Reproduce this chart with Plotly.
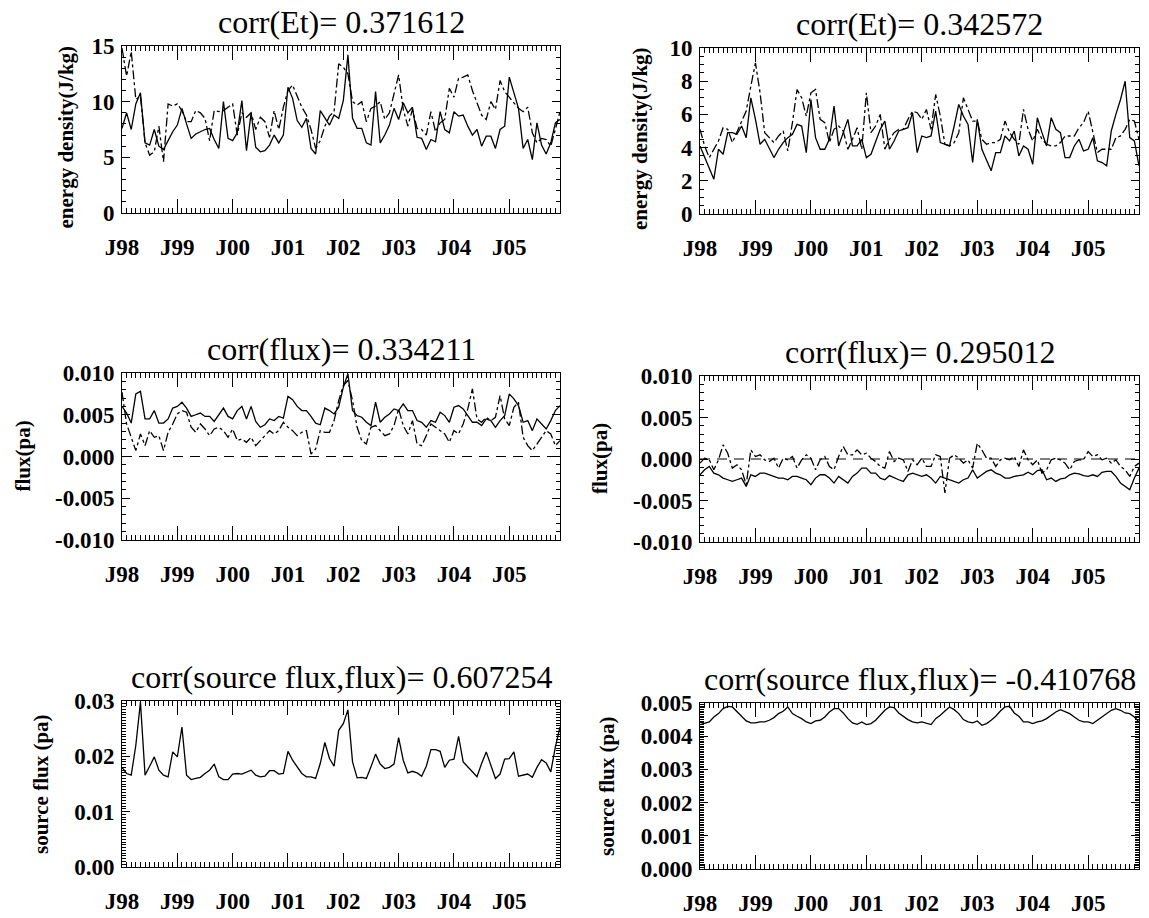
import plotly.graph_objects as go

W, H = 1149, 918
months = list(range(96))
xtick_vals = [0, 12, 24, 36, 48, 60, 72, 84]
xtick_labels = ["J98", "J99", "J00", "J01", "J02", "J03", "J04", "J05"]

titles = ["corr(Et)= 0.371612", "corr(Et)= 0.342572",
          "corr(flux)= 0.334211", "corr(flux)= 0.295012",
          "corr(source flux,flux)= 0.607254", "corr(source flux,flux)= -0.410768"]
ylabels = ["energy density(J/kg)", "energy density(J/kg)", "flux(pa)", "flux(pa)",
           "source flux (pa)", "source flux (pa)"]

# Panel 1: energy density (left)
et_left_solid = [7.6, 9.0, 7.5, 9.8, 10.8, 6.3, 6.1, 7.5, 6.0, 5.7, 6.5, 7.3, 7.9, 9.4, 8.0, 6.7,
                 7.1, 7.3, 7.5, 7.6, 6.6, 5.8, 10.0, 6.7, 6.5, 7.2, 10.1, 5.6, 9.0, 5.9, 5.5, 5.6,
                 6.1, 7.0, 6.3, 7.0, 11.3, 10.3, 8.3, 7.7, 8.5, 5.8, 5.3, 9.2, 8.6, 7.9, 8.8, 8.5,
                 10.1, 14.2, 8.5, 7.6, 7.6, 6.3, 6.1, 10.9, 6.3, 7.0, 7.9, 9.4, 8.4, 9.9, 9.0, 9.5,
                 6.8, 6.7, 5.7, 6.6, 6.4, 9.1, 7.5, 7.2, 9.1, 8.7, 8.8, 7.8, 7.0, 7.5, 6.0, 6.9,
                 6.9, 5.8, 7.5, 7.8, 12.2, 10.7, 9.4, 5.8, 6.6, 4.8, 8.1, 6.1, 5.3, 6.3, 8.1, 8.4]
et_left_dashdot = [14.8, 12.3, 14.5, 10.2, 10.5, 6.3, 5.2, 5.5, 7.8, 4.6, 9.8, 9.6, 9.8, 9.2, 8.2, 8.2,
                   9.2, 9.0, 8.5, 6.5, 9.2, 9.1, 9.2, 9.5, 9.8, 7.0, 9.0, 8.6, 9.0, 7.5, 8.6, 8.2,
                   6.8, 9.2, 7.5, 9.5, 11.0, 11.5, 10.5, 9.5, 8.8, 7.5, 5.8, 6.5, 7.8, 8.7, 9.1, 13.4,
                   13.1, 12.5, 10.0, 9.7, 10.0, 8.2, 9.4, 9.6, 10.0, 8.4, 9.0, 10.7, 12.4, 9.3, 7.8, 9.3,
                   7.6, 7.5, 7.0, 9.1, 7.3, 8.1, 8.4, 11.2, 10.4, 12.1, 12.2, 12.4, 11.0, 9.9, 8.8, 8.4,
                   10.0, 9.3, 11.9, 10.9, 10.4, 9.9, 9.4, 9.1, 9.5, 7.2, 6.3, 6.7, 6.6, 6.0, 7.5, 9.1]

# Panel 2: energy density (right)
et_right_solid = [4.1, 3.4, 2.7, 2.1, 3.9, 3.6, 4.9, 4.9, 4.8, 5.3, 4.6, 7.0, 5.7, 4.2, 4.5, 3.9,
                  3.4, 3.9, 4.3, 4.6, 4.8, 5.4, 5.3, 3.7, 6.9, 4.6, 3.9, 3.9, 4.5, 6.5, 4.1, 4.9,
                  5.7, 4.1, 4.1, 4.5, 3.4, 3.6, 4.3, 5.1, 5.6, 3.9, 4.4, 5.0, 5.1, 5.2, 6.1, 3.7,
                  4.7, 4.6, 4.7, 6.2, 4.3, 4.2, 4.1, 5.3, 6.6, 5.9, 5.4, 3.1, 5.7, 3.9, 3.3, 2.6,
                  3.7, 3.7, 4.7, 4.4, 5.0, 3.5, 4.1, 3.9, 3.0, 5.8, 4.9, 4.1, 5.8, 5.1, 4.9, 3.4,
                  3.4, 4.1, 4.5, 3.8, 3.9, 4.6, 3.2, 3.1, 2.9, 5.0, 6.0, 6.9, 8.0, 4.6, 4.4, 2.9]
et_right_dashdot = [5.1, 4.1, 3.4, 3.9, 4.4, 5.2, 5.1, 4.3, 4.9, 5.5, 6.2, 7.7, 9.1, 7.3, 4.9, 4.6,
                    4.3, 4.7, 5.0, 3.8, 5.5, 7.5, 7.0, 5.9, 7.3, 7.5, 5.7, 5.5, 4.3, 5.1, 5.3, 5.0,
                    3.9, 4.5, 5.2, 3.9, 7.3, 4.9, 5.3, 6.0, 3.9, 4.5, 4.9, 5.1, 5.1, 5.7, 6.2, 6.1,
                    5.7, 6.3, 5.1, 7.2, 5.9, 4.2, 4.1, 4.3, 4.9, 7.0, 6.3, 5.6, 5.6, 4.5, 4.2, 4.3,
                    4.3, 4.5, 5.6, 4.9, 4.5, 4.2, 6.3, 5.1, 4.4, 5.1, 4.5, 4.2, 4.1, 4.1, 4.3, 4.7,
                    4.7, 4.7, 5.2, 5.5, 6.2, 4.9, 3.7, 3.9, 3.9, 3.9, 4.6, 4.7, 5.1, 5.7, 5.6, 4.5]

# Panel 3: flux (left)
flux_left_solid = [0.0060, 0.0052, 0.0040, 0.0075, 0.0078, 0.0045, 0.0045, 0.0055, 0.0040, 0.0040,
                   0.0045, 0.0058, 0.0060, 0.0065, 0.0058, 0.0048, 0.0050, 0.0052, 0.0048, 0.0048,
                   0.0042, 0.0050, 0.0058, 0.0048, 0.0045, 0.0055, 0.0060, 0.0045, 0.0060, 0.0042,
                   0.0035, 0.0038, 0.0045, 0.0043, 0.0048, 0.0046, 0.0072, 0.0068, 0.0060, 0.0055,
                   0.0055, 0.0048, 0.0040, 0.0038, 0.0058, 0.0055, 0.0051, 0.0059, 0.0083, 0.0099,
                   0.0055, 0.0049, 0.0047, 0.0041, 0.0037, 0.0065, 0.0041, 0.0047, 0.0051, 0.0057,
                   0.0055, 0.0063, 0.0055, 0.0055, 0.0043, 0.0041, 0.0035, 0.0043, 0.0041, 0.0053,
                   0.0049, 0.0041, 0.0059, 0.0061, 0.0057, 0.0049, 0.0041, 0.0041, 0.0037, 0.0045,
                   0.0043, 0.0035, 0.0043, 0.0049, 0.0075, 0.0069, 0.0061, 0.0041, 0.0043, 0.0031,
                   0.0045, 0.0039, 0.0033, 0.0043, 0.0055, 0.0061]
flux_left_dashdot = [0.0077, 0.0039, 0.0023, 0.0007, 0.0027, 0.0013, 0.0031, 0.0023, 0.0025, 0.0007,
                     0.0029, 0.0039, 0.0051, 0.0055, 0.0053, 0.0035, 0.0029, 0.0039, 0.0033, 0.0025,
                     0.0033, 0.0035, 0.0031, 0.0023, 0.0033, 0.0019, 0.0021, 0.0017, 0.0023, 0.0013,
                     0.0019, 0.0025, 0.0031, 0.0027, 0.0031, 0.0041, 0.0035, 0.0031, 0.0025, 0.0029,
                     0.0031, 0.0003, 0.0009, 0.0031, 0.0029, 0.0029, 0.0043, 0.0067, 0.0085, 0.0091,
                     0.0067, 0.0035, 0.0019, 0.0015, 0.0035, 0.0037, 0.0031, 0.0025, 0.0027, 0.0037,
                     0.0057, 0.0037, 0.0027, 0.0043, 0.0015, 0.0013, 0.0025, 0.0039, 0.0035, 0.0031,
                     0.0027, 0.0017, 0.0031, 0.0027, 0.0039, 0.0057, 0.0081, 0.0045, 0.0041, 0.0047,
                     0.0043, 0.0047, 0.0073, 0.0045, 0.0037, 0.0059, 0.0065, 0.0023, 0.0013, 0.0007,
                     0.0015, 0.0023, 0.0031, 0.0027, 0.0013, 0.0019]

# Panel 4: flux (right)
flux_right_solid = [-0.0019, -0.0013, -0.0009, -0.0017, -0.0019, -0.0023, -0.0025, -0.0027, -0.0025, -0.0023,
                    -0.0033, -0.0019, -0.0021, -0.0017, -0.0017, -0.0019, -0.0021, -0.0023, -0.0023, -0.0025,
                    -0.0021, -0.0021, -0.0023, -0.0025, -0.0031, -0.0023, -0.0019, -0.0019, -0.0023, -0.0029,
                    -0.0021, -0.0025, -0.0029, -0.0021, -0.0017, -0.0011, -0.0011, -0.0017, -0.0017, -0.0023,
                    -0.0025, -0.0020, -0.0023, -0.0025, -0.0027, -0.0019, -0.0017, -0.0019, -0.0021, -0.0019,
                    -0.0023, -0.0029, -0.0021, -0.0023, -0.0025, -0.0027, -0.0029, -0.0025, -0.0023, -0.0013,
                    -0.0023, -0.0019, -0.0015, -0.0013, -0.0017, -0.0019, -0.0023, -0.0023, -0.0021, -0.0020,
                    -0.0019, -0.0016, -0.0019, -0.0014, -0.0013, -0.0025, -0.0023, -0.0027, -0.0024, -0.0023,
                    -0.0019, -0.0017, -0.0018, -0.0020, -0.0021, -0.0019, -0.0021, -0.0016, -0.0015, -0.0015,
                    -0.0021, -0.0029, -0.0033, -0.0037, -0.0023, -0.0011]
flux_right_dashdot = [-0.0005, 0.0001, -0.0001, -0.0013, -0.0001, 0.0017, 0.0007, -0.0011, -0.0007, -0.0013,
                      -0.0031, 0.0011, 0.0003, 0.0005, -0.0001, -0.0003, 0.0001, -0.0011, 0.0001, -0.0001,
                      0.0003, -0.0011, -0.0001, 0.0005, 0.0001, -0.0013, -0.0001, 0.0003, -0.0009, -0.0013,
                      0.0003, 0.0015, 0.0005, 0.0005, 0.0011, 0.0005, 0.0007, 0.0001, -0.0003, -0.0009,
                      -0.0011, 0.0009, -0.0003, 0.0001, -0.0001, -0.0015, -0.0001, -0.0007, 0.0001, -0.0009,
                      -0.0009, 0.0005, 0.0003, -0.0041, 0.0001, 0.0005, 0.0001, -0.0005, -0.0001, -0.0011,
                      0.0019, 0.0011, 0.0001, 0.0001, -0.0009, -0.0001, 0.0001, -0.0001, 0.0003, -0.0009,
                      0.0011, -0.0001, -0.0007, -0.0001, -0.0017, -0.0013, -0.0001, 0.0001, -0.0001, -0.0005,
                      -0.0013, -0.0003, -0.0001, -0.0001, 0.0009, 0.0003, 0.0005, -0.0001, 0.0001, -0.0005,
                      -0.0001, -0.0009, -0.0013, -0.0021, -0.0009, -0.0005]

# Panel 5: source flux (left)
src_left = [0.0180, 0.0169, 0.0166, 0.0220, 0.0298, 0.0166, 0.0182, 0.0199, 0.0175, 0.0166,
            0.0163, 0.0208, 0.0199, 0.0253, 0.0166, 0.0158, 0.0160, 0.0162, 0.0169, 0.0175,
            0.0186, 0.0163, 0.0158, 0.0158, 0.0168, 0.0169, 0.0168, 0.0172, 0.0175, 0.0166,
            0.0163, 0.0164, 0.0174, 0.0174, 0.0168, 0.0169, 0.0209, 0.0193, 0.0182, 0.0169,
            0.0163, 0.0163, 0.0160, 0.0187, 0.0225, 0.0196, 0.0182, 0.0247, 0.0259, 0.0284,
            0.0190, 0.0161, 0.0162, 0.0160, 0.0181, 0.0204, 0.0186, 0.0178, 0.0180, 0.0186,
            0.0234, 0.0193, 0.0170, 0.0173, 0.0170, 0.0164, 0.0182, 0.0212, 0.0212, 0.0209,
            0.0180, 0.0193, 0.0195, 0.0236, 0.0190, 0.0181, 0.0170, 0.0163, 0.0187, 0.0208,
            0.0184, 0.0160, 0.0168, 0.0195, 0.0196, 0.0208, 0.0164, 0.0166, 0.0168, 0.0162,
            0.0180, 0.0194, 0.0188, 0.0172, 0.0217, 0.0253]

# Panel 6: source flux (right)
src_right = [0.00435, 0.00438, 0.00443, 0.00458, 0.00468, 0.00483, 0.00490, 0.00488, 0.00473, 0.00458,
             0.00446, 0.00440, 0.00440, 0.00443, 0.00443, 0.00448, 0.00456, 0.00468, 0.00475, 0.00488,
             0.00468, 0.00460, 0.00453, 0.00443, 0.00438, 0.00446, 0.00448, 0.00458, 0.00473, 0.00483,
             0.00483, 0.00470, 0.00453, 0.00440, 0.00436, 0.00443, 0.00435, 0.00438, 0.00448, 0.00463,
             0.00478, 0.00488, 0.00486, 0.00470, 0.00460, 0.00450, 0.00443, 0.00440, 0.00443, 0.00438,
             0.00435, 0.00453, 0.00463, 0.00476, 0.00488, 0.00480, 0.00468, 0.00450, 0.00443, 0.00440,
             0.00446, 0.00433, 0.00438, 0.00448, 0.00460, 0.00476, 0.00488, 0.00490, 0.00470, 0.00460,
             0.00443, 0.00443, 0.00438, 0.00443, 0.00446, 0.00453, 0.00463, 0.00473, 0.00480, 0.00473,
             0.00468, 0.00458, 0.00448, 0.00443, 0.00443, 0.00438, 0.00448, 0.00460, 0.00468, 0.00478,
             0.00483, 0.00478, 0.00470, 0.00468, 0.00458, 0.00443]

# y-axis settings per panel: range, tick values, tick labels, minor step
y_ranges = [[0, 15], [0, 10], [-0.01, 0.01], [-0.01, 0.01], [0, 0.03], [0, 0.005]]
y_tickvals = [[0, 5, 10, 15], [0, 2, 4, 6, 8, 10],
              [-0.01, -0.005, 0, 0.005, 0.01], [-0.01, -0.005, 0, 0.005, 0.01],
              [0, 0.01, 0.02, 0.03], [0, 0.001, 0.002, 0.003, 0.004, 0.005]]
y_ticktext = [["0", "5", "10", "15"], ["0", "2", "4", "6", "8", "10"],
              ["-0.010", "-0.005", "0.000", "0.005", "0.010"],
              ["-0.010", "-0.005", "0.000", "0.005", "0.010"],
              ["0.00", "0.01", "0.02", "0.03"],
              ["0.000", "0.001", "0.002", "0.003", "0.004", "0.005"]]
y_minor = [1, 0.5, 0.001, 0.001, 0.0005, 0.00005]

# layout geometry (pixels): left, right, top, bottom of each plot frame
frames = [(122, 560, 46, 213), (700, 1139, 48, 214),
          (122, 560, 373, 540), (700, 1139, 376, 542),
          (122, 560, 701, 867), (700, 1139, 703, 869)]
ylabel_x = [65, 640, 22, 600, 41, 607]
ylabel_dy = [8, 8, 0, 0, 0, 0]

series = [[(et_left_solid, "solid"), (et_left_dashdot, "dashdot")],
          [(et_right_solid, "solid"), (et_right_dashdot, "dashdot")],
          [(flux_left_solid, "solid"), (flux_left_dashdot, "dashdot")],
          [(flux_right_solid, "solid"), (flux_right_dashdot, "dashdot")],
          [(src_left, "solid")],
          [(src_right, "solid")]]

SERIF = "Liberation Serif"
tickfont = dict(family=SERIF, size=23, color="black", weight="bold")

fig = go.Figure()
layout = dict(width=W, height=H, margin=dict(l=0, r=0, t=0, b=0, pad=0),
              template="none",
              paper_bgcolor="white", plot_bgcolor="white", showlegend=False)
annotations = []
shapes = []

for k in range(6):
    n = "" if k == 0 else str(k + 1)
    l, r, t, b = frames[k]
    xd = [l / W, r / W]
    yd = [1 - b / H, 1 - t / H]
    layout["xaxis" + n] = dict(
        domain=xd, anchor="y" + n, range=[0, 95], tickmode="array", automargin=False,
        tickvals=xtick_vals, ticktext=xtick_labels, ticks="inside", ticklen=14,
        tickwidth=1, tickcolor="black", showline=True, linecolor="black", linewidth=1,
        mirror="allticks", showgrid=False, zeroline=False, tickfont=tickfont,
        ticklabelstandoff=13,
        minor=dict(tickmode="linear", tick0=0, dtick=1, ticks="inside", ticklen=5,
                   tickwidth=1, tickcolor="black", showgrid=False))
    layout["yaxis" + n] = dict(
        domain=yd, anchor="x" + n, range=y_ranges[k], tickmode="array", automargin=False,
        tickvals=y_tickvals[k], ticktext=y_ticktext[k], ticks="inside", ticklen=8,
        tickwidth=1, tickcolor="black", showline=True, linecolor="black", linewidth=1,
        mirror="allticks", showgrid=False, zeroline=False, tickfont=tickfont,
        ticklabelstandoff=2,
        minor=dict(tickmode="linear", tick0=y_ranges[k][0], dtick=y_minor[k], ticks="inside",
                   ticklen=4, tickwidth=1, tickcolor="black", showgrid=False))
    for vals, dash in series[k]:
        fig.add_trace(go.Scatter(x=months, y=vals, mode="lines", xaxis="x" + n, yaxis="y" + n,
                                 line=dict(color="black", width=1.3, dash=dash),
                                 hoverinfo="skip"))
    annotations.append(dict(text=titles[k], xref="x" + n + " domain", yref="y" + n + " domain",
                            x=0.5, y=1, xanchor="center", yanchor="bottom", yshift=4,
                            showarrow=False, font=dict(family=SERIF, size=32, color="black")))
    annotations.append(dict(text=ylabels[k], xref="paper", yref="y" + n + " domain",
                            x=ylabel_x[k] / W, y=0.5, xanchor="center", yanchor="middle",
                            yshift=-ylabel_dy[k], textangle=-90, showarrow=False,
                            font=dict(family=SERIF, size=21, color="black", weight="bold")))
    if k in (2, 3):
        shapes.append(dict(type="line", xref="x" + n + " domain", yref="y" + n,
                           x0=0, x1=1, y0=0, y1=0,
                           line=dict(color="black", width=1, dash="10px,7px")))

layout["annotations"] = annotations
layout["shapes"] = shapes
fig.update_layout(**layout)
fig.write_html("out.html")
